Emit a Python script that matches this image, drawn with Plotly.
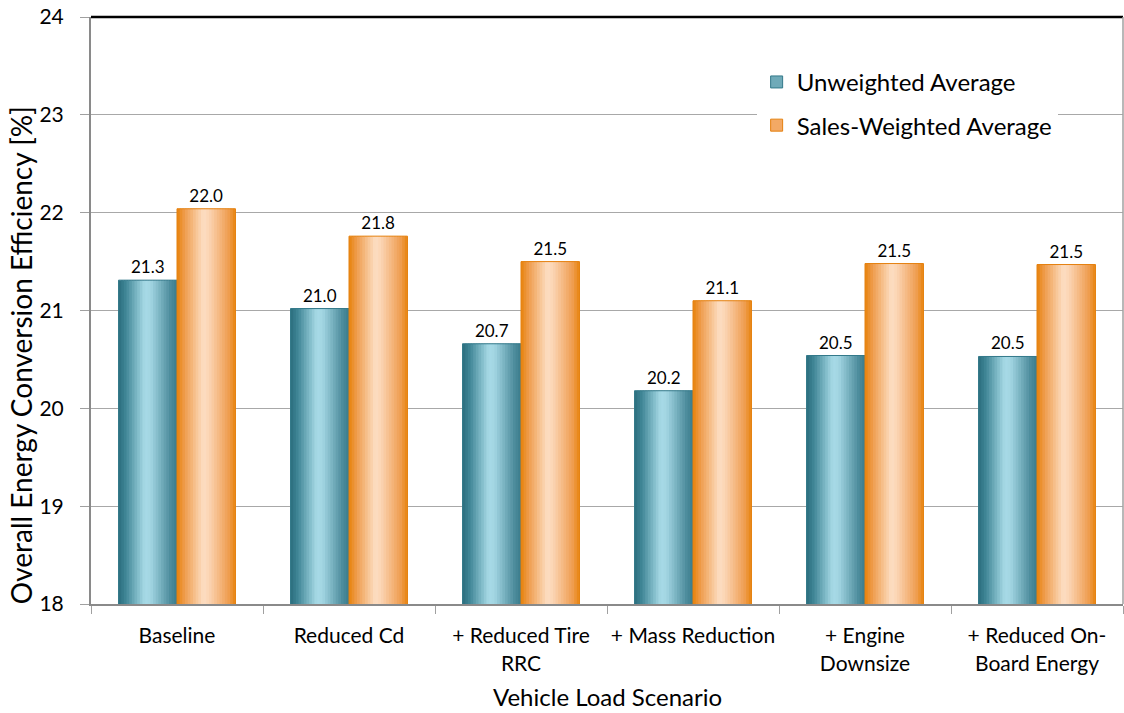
import plotly.graph_objects as go

# ---------------- data ----------------
categories = ["Baseline", "Reduced Cd", "+ Reduced Tire<br>RRC", "+ Mass Reduction",
              "+ Engine<br>Downsize", "+ Reduced On-<br>Board Energy"]
unweighted = [21.31, 21.02, 20.66, 20.18, 20.54, 20.53]
sales_weighted = [22.04, 21.76, 21.50, 21.10, 21.48, 21.47]
series_names = ["Unweighted Average", "Sales-Weighted Average"]
y_ticks = [18, 19, 20, 21, 22, 23, 24]
x_title = "Vehicle Load Scenario"
y_title = "Overall Energy Conversion Efficiency [%]"

# ---------------- style ----------------
FONT = "Lato"
BAR_W = 0.34          # width of one bar in category units
N_STRIPS = 22         # strips used to imitate the cylinder gradient
TEAL_STOPS = [(0.0, "#2B6E7E"), (0.12, "#3F8595"), (0.45, "#A8DBE7"),
              (0.55, "#A2D5E2"), (0.88, "#4F8E9E"), (1.0, "#3A7B8B")]
ORANGE_STOPS = [(0.0, "#E8820C"), (0.12, "#EE9A48"), (0.45, "#FDDEC3"),
                (0.55, "#FBD4B3"), (0.88, "#EF9E52"), (1.0, "#E8840F")]
TEAL_EDGE = "#33798A"
ORANGE_EDGE = "#E5810F"
LEGEND_TEAL = "#6FAAB8"
LEGEND_ORANGE = "#F3A965"


def hex_to_rgb(h):
    h = h.lstrip("#")
    return tuple(int(h[i:i + 2], 16) for i in (0, 2, 4))


def interp(stops, t):
    for (t0, c0), (t1, c1) in zip(stops[:-1], stops[1:]):
        if t0 <= t <= t1:
            f = 0 if t1 == t0 else (t - t0) / (t1 - t0)
            a, b = hex_to_rgb(c0), hex_to_rgb(c1)
            r = [round(a[k] + (b[k] - a[k]) * f) for k in range(3)]
            return "rgb({},{},{})".format(*r)
    return stops[-1][1]


fig = go.Figure()

series = [
    (unweighted, series_names[0], TEAL_STOPS, TEAL_EDGE, LEGEND_TEAL, -BAR_W),
    (sales_weighted, series_names[1], ORANGE_STOPS, ORANGE_EDGE, LEGEND_ORANGE, 0.0),
]

step = BAR_W / N_STRIPS
for vals, name, stops, edge, legcol, start in series:
    # gradient strips
    for i in range(N_STRIPS):
        t = (i + 0.5) / N_STRIPS
        w = step * 1.6 if i < N_STRIPS - 1 else step
        fig.add_trace(go.Bar(
            x=categories, y=vals, offset=start + i * step, width=w,
            marker=dict(color=interp(stops, t), line=dict(width=0)),
            showlegend=False, hoverinfo="skip",
        ))
    # outline + labels
    fig.add_trace(go.Bar(
        x=categories, y=vals, offset=start, width=BAR_W,
        marker=dict(color="rgba(0,0,0,0)", line=dict(color=edge, width=1)),
        texttemplate="%{y:.1f}", textposition="outside",
        textfont=dict(family=FONT, size=17, color="#000000"),
        cliponaxis=False, showlegend=False, name=name,
    ))
    # legend entry
    fig.add_trace(go.Bar(
        x=categories, y=[None] * len(categories), name=name,
        marker=dict(color=legcol, line=dict(color=edge, width=1)),
        legendgroup=name, showlegend=True,
    ))

fig.update_layout(
    width=1124, height=713,
    margin=dict(l=91, r=1, t=17, b=109),
    paper_bgcolor="white", plot_bgcolor="white",
    barmode="overlay",
    font=dict(family=FONT, color="#000000"),
    showlegend=True,
    legend=dict(
        x=0.645, y=0.927, xanchor="left", yanchor="top",
        bgcolor="white", font=dict(family=FONT, size=24, color="#000000"),
        tracegroupgap=9, itemwidth=30,
    ),
    xaxis=dict(
        type="category", categoryorder="array", categoryarray=categories,
        range=[-0.5, len(categories) - 0.5], automargin=False,
        showline=True, linecolor="#8A8A8A", linewidth=2,
        ticks="outside", tickson="boundaries", ticklen=8, tickcolor="#A0A0A0",
        tickfont=dict(family=FONT, size=21, color="#000000"),
        tickangle=0, ticklabelstandoff=12,
        showgrid=False,
    ),
    yaxis=dict(
        range=[18, 24], tickvals=y_ticks, ticktext=[str(v) for v in y_ticks],
        automargin=False, ticklabeloverflow="allow",
        showline=True, linecolor="#8A8A8A", linewidth=2,
        ticks="outside", ticklen=9, tickcolor="#A0A0A0",
        tickfont=dict(family=FONT, size=21, color="#000000"),
        ticklabelstandoff=12,
        showgrid=True, gridcolor="#A8A8A8", gridwidth=1,
        zeroline=False,
    ),
    annotations=[
        dict(text=x_title, xref="paper", yref="paper", x=0.5, y=-0.158,
             xanchor="center", yanchor="middle", showarrow=False,
             font=dict(family=FONT, size=24, color="#000000")),
        dict(text=y_title, xref="paper", yref="paper", x=-0.0862, y=0.424,
             xanchor="left", yanchor="middle", textangle=-90, showarrow=False,
             font=dict(family=FONT, size=28, color="#000000")),
    ],
    shapes=[
        dict(type="line", xref="paper", yref="paper", x0=0, x1=1, y0=1, y1=1,
             line=dict(color="#000000", width=2.5)),
        dict(type="line", xref="paper", yref="paper", x0=1, x1=1, y0=0, y1=1,
             line=dict(color="#A0A0A0", width=1.5)),
    ],
)

# remove the browser's default 8px body margin so the figure fills the window
fig.write_html("out.html",
               config={"displayModeBar": False},
               post_script="document.body.style.margin='0';"
                           "document.body.style.overflow='hidden';")
